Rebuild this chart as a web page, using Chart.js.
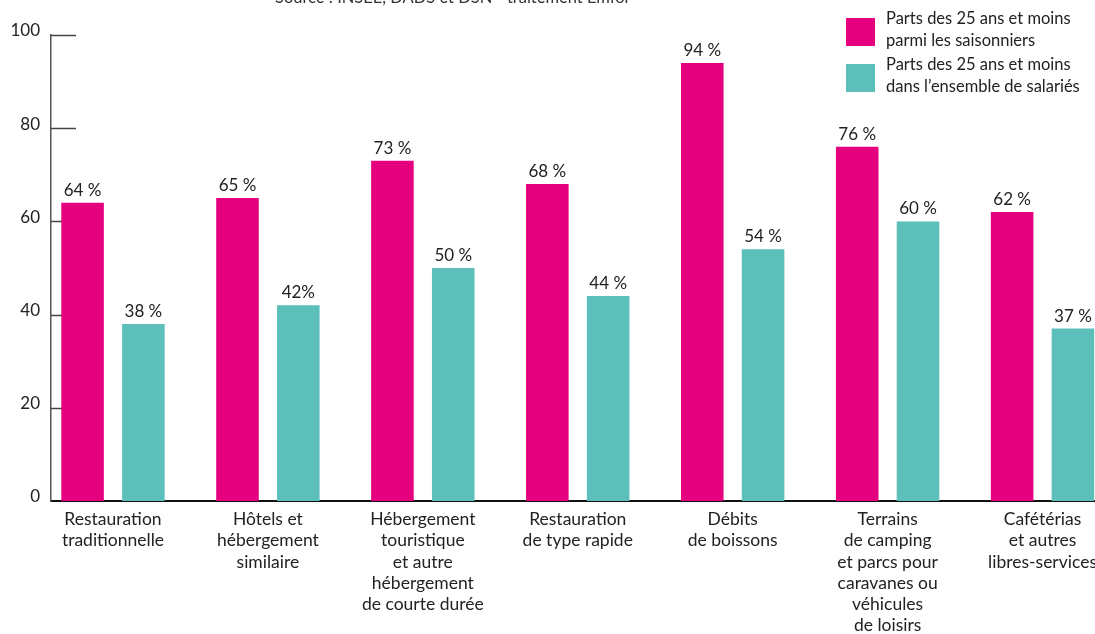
<!DOCTYPE html>
<html lang="fr">
<head>
  <meta charset="UTF-8">
  <title>Jeunes saisonniers</title>
  <style>
    html, body { margin: 0; padding: 0; background: #fff; overflow: hidden; }
    #wrap { position: relative; width: 1130px; height: 634px; }
    #source { position: absolute; top: -12px; left: 275px; font: 16.5px Lato, sans-serif; line-height: 19px; color: #333; white-space: nowrap; }
    #legend { position: absolute; left: 846px; top: 7px; font: 16.5px Lato, sans-serif; color: #222; }
    .item { display: flex; align-items: flex-start; height: 46px; }
    .box { width: 29px; height: 28px; margin-top: 11px; margin-right: 11px; }
    .txt { line-height: 22px; white-space: nowrap; }
  </style>
</head>
<body>

<div id="wrap">
  <canvas id="myChart" width="1130" height="634"></canvas>
  <div id="source">Source : INSEE, DADS et DSN - traitement Emfor</div>
  <div id="legend"></div>
</div>

<script src="https://cdn.jsdelivr.net/npm/chart.js"></script>

<script>
  const categories = [
    ['Restauration', 'traditionnelle'],
    ['Hôtels et', 'hébergement', 'similaire'],
    ['Hébergement', 'touristique', 'et autre', 'hébergement', 'de courte durée'],
    ['Restauration', 'de type rapide'],
    ['Débits', 'de boissons'],
    ['Terrains', 'de camping', 'et parcs pour', 'caravanes ou', 'véhicules', 'de loisirs'],
    ['Cafétérias', 'et autres', 'libres-services']
  ];
  const saisonniers = [64, 65, 73, 68, 94, 76, 62];
  const ensemble = [38, 42, 50, 44, 54, 60, 37];
  // one label is written without the space before %
  const ensembleSep = [' ', '', ' ', ' ', ' ', ' ', ' '];
  const yTicks = [0, 20, 40, 60, 80, 100];

  const legendText = [
    ['Parts des 25 ans et moins', 'parmi les saisonniers'],
    ['Parts des  25 ans et moins', 'dans l\u2019ensemble de salariés']
  ];

  const PINK = '#e5007d';
  const TEAL = '#5cbfb9';
  const FONT = 'Lato, sans-serif';

  // value written above each bar
  const barLabels = {
    id: 'barLabels',
    afterDatasetsDraw(chart) {
      const ctx = chart.ctx;
      ctx.save();
      ctx.font = '17px ' + FONT;
      ctx.fillStyle = '#222';
      ctx.textAlign = 'center';
      ctx.textBaseline = 'bottom';
      chart.data.datasets.forEach((ds, d) => {
        chart.getDatasetMeta(d).data.forEach((bar, i) => {
          ctx.fillText(ds.valueText[i], bar.x, bar.y - 4);
        });
      });
      ctx.restore();
    }
  };

  // short tick marks pointing into the plot
  const innerTicks = {
    id: 'innerTicks',
    beforeDatasetsDraw(chart) {
      const y = chart.scales.y, ctx = chart.ctx;
      ctx.save();
      ctx.strokeStyle = '#444';
      ctx.lineWidth = 1.5;
      y.ticks.forEach(t => {
        if (t.value === 0) return;
        const py = Math.round(y.getPixelForValue(t.value)) + 0.5;
        ctx.beginPath();
        ctx.moveTo(y.right, py);
        ctx.lineTo(y.right + 25, py);
        ctx.stroke();
      });
      ctx.restore();
    }
  };

  const ctx = document.getElementById('myChart').getContext('2d');
  const myChart = new Chart(ctx, {
    type: 'bar',
    data: {
      datasets: [{
        label: legendText[0].join(' '),
        data: saisonniers.map((v, i) => ({ x: i, y: v })),
        valueText: saisonniers.map(v => v + ' %'),
        backgroundColor: PINK
      }, {
        label: legendText[1].join(' '),
        data: ensemble.map((v, i) => ({ x: i, y: v })),
        valueText: ensemble.map((v, i) => v + ensembleSep[i] + '%'),
        backgroundColor: TEAL
      }]
    },
    options: {
      responsive: false,
      animation: false,
      categoryPercentage: 0.785,
      barPercentage: 0.7,
      layout: { padding: { top: 35, right: 10, left: 0, bottom: 0 } },
      plugins: {
        legend: { display: false },
        tooltip: { enabled: false }
      },
      scales: {
        x: {
          type: 'linear',
          min: -0.4,
          max: 6.5,
          offset: false,
          afterBuildTicks: s => { s.ticks = categories.map((c, i) => ({ value: i })); },
          afterFit: s => { s.height = 133; },
          grid: { display: false, drawTicks: false, offset: false },
          border: { display: true, color: '#111', width: 2 },
          ticks: {
            callback: v => categories[v],
            autoSkip: false,
            maxRotation: 0,
            minRotation: 0,
            padding: 8,
            color: '#222',
            font: { family: FONT, size: 17.5, lineHeight: 1.21 }
          }
        },
        y: {
          min: 0,
          max: 100,
          afterBuildTicks: s => { s.ticks = yTicks.map(v => ({ value: v })); },
          afterFit: s => { s.width = 51; },
          grid: { display: false, drawTicks: false },
          border: { display: true, color: '#555', width: 1.5 },
          ticks: {
            padding: 11,
            labelOffset: -4,
            color: '#222',
            font: { family: FONT, size: 17 }
          }
        }
      }
    },
    plugins: [innerTicks, barLabels]
  });

  // legend built from the datasets
  const legend = document.getElementById('legend');
  myChart.data.datasets.forEach((ds, i) => {
    const item = document.createElement('div');
    item.className = 'item';
    const box = document.createElement('div');
    box.className = 'box';
    box.style.background = ds.backgroundColor;
    const txt = document.createElement('div');
    txt.className = 'txt';
    txt.innerHTML = legendText[i].join('<br>');
    item.appendChild(box);
    item.appendChild(txt);
    legend.appendChild(item);
  });
</script>
</body>
</html>
